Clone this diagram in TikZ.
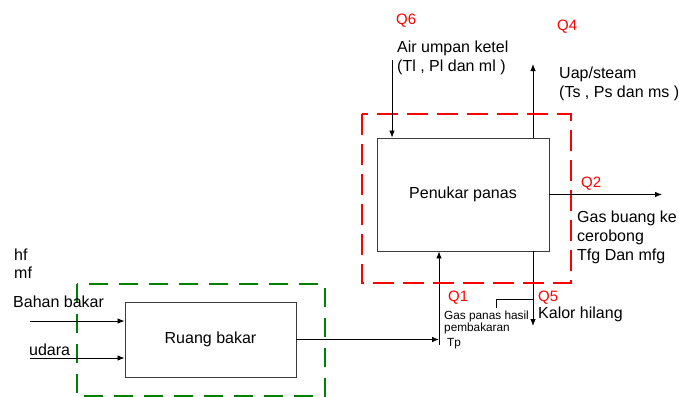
\documentclass[tikz,border=0pt]{standalone}
\usepackage{fontspec}
\setmainfont{Liberation Sans}
\usetikzlibrary{arrows.meta}
\definecolor{qred}{RGB}{255,0,0}
\definecolor{dgreen}{RGB}{0,128,0}
\definecolor{boxgray}{RGB}{60,60,60}
\begin{document}
\begin{tikzpicture}[x=1pt,y=-1pt,
  arr/.style={draw=black,line width=0.8pt,-{Latex[length=7pt,width=5.5pt]}},
  plain/.style={draw=black,line width=0.8pt},
  blockbox/.style={draw=boxgray,line width=0.9pt,rectangle,inner sep=0pt,font=\fontsize{16}{19}\selectfont},
  lbl/.style={anchor=base west,inner sep=0pt,font=\fontsize{16}{19}\selectfont},
  small/.style={anchor=base west,inner sep=0pt,font=\fontsize{11.8}{14}\selectfont},
  qlbl/.style={anchor=base west,inner sep=0pt,text=qred,font=\fontsize{15}{18}\selectfont},
  reddash/.style={draw=qred,line width=2.6pt,dash pattern=on 21pt off 9pt},
  greendash/.style={draw=dgreen,line width=2.6pt,dash pattern=on 19pt off 11pt}]
\useasboundingbox (0,0) rectangle (679,396);
\fill[white] (0,0) rectangle (679,396);

% dashed system boundaries
\draw[reddash] (362,114) rectangle (571,283);
\draw[greendash] (77,284) rectangle (325,396.6);

% blocks
\node[blockbox,minimum width=172pt,minimum height=113pt] (pen) at (463,194.5) {Penukar panas};
\node[blockbox,minimum width=171pt,minimum height=75pt] (rb) at (210.5,339.5) {Ruang bakar};

% coordinates for free ends
\coordinate (aw) at (392,60);
\coordinate (ut) at (533,64);
\coordinate (gt) at (662,194.5);
\coordinate (kt) at (533,326);
\coordinate (c) at (439,339.5);
\coordinate (cb) at (439,345);
\coordinate (bb) at (30,321);
\coordinate (ud) at (30,358);
\coordinate (k1) at (496,308);
\coordinate (k2) at (496,299);
\coordinate (k3) at (533,299);

% connectors
\draw[arr] (aw) -- (aw |- pen.north);
\draw[arr] (ut |- pen.north) -- (ut);
\draw[arr] (pen.east) -- (gt);
\draw[arr] (kt |- pen.south) -- (kt);
\draw[arr] (rb.east) -- (c);
\draw[arr] (cb) -- (cb |- pen.south);
\draw[arr] (bb) -- (bb -| rb.west);
\draw[arr] (ud) -- (ud -| rb.west);
\draw[plain] (k1) -- (k2) -- (k3);

% labels
\node[qlbl] (q6) at (396,25) {Q6};
\node[qlbl] (q4) at (557,31) {Q4};
\node[qlbl] (q2) at (581,187) {Q2};
\node[qlbl] (q1) at (448,301) {Q1};
\node[qlbl] (q5) at (538,301) {Q5};

\node[lbl] (t1) at (397,52.5) {Air umpan ketel};
\node[lbl] (t2) at (397,71.5) {(Tl , Pl dan ml )};
\node[lbl] (t3) at (559,78) {Uap/steam};
\node[lbl] (t4) at (559,97) {(Ts , Ps dan ms )};
\node[lbl] (t5) at (577,222) {Gas buang ke};
\node[lbl] (t6) at (577,241) {cerobong};
\node[lbl] (t7) at (577,260) {Tfg Dan mfg};
\node[lbl] (t8) at (538,318) {Kalor hilang};
\node[small] (t9) at (444,319) {Gas panas hasil};
\node[small] (t10) at (444,331.5) {pembakaran};
\node[small] (t11) at (447,346) {Tp};
\node[lbl] (t12) at (14,260) {hf};
\node[lbl] (t13) at (14,278) {mf};
\node[lbl] (t14) at (13,307) {Bahan bakar};
\node[lbl] (t15) at (29,355) {udara};
\end{tikzpicture}
\end{document}
